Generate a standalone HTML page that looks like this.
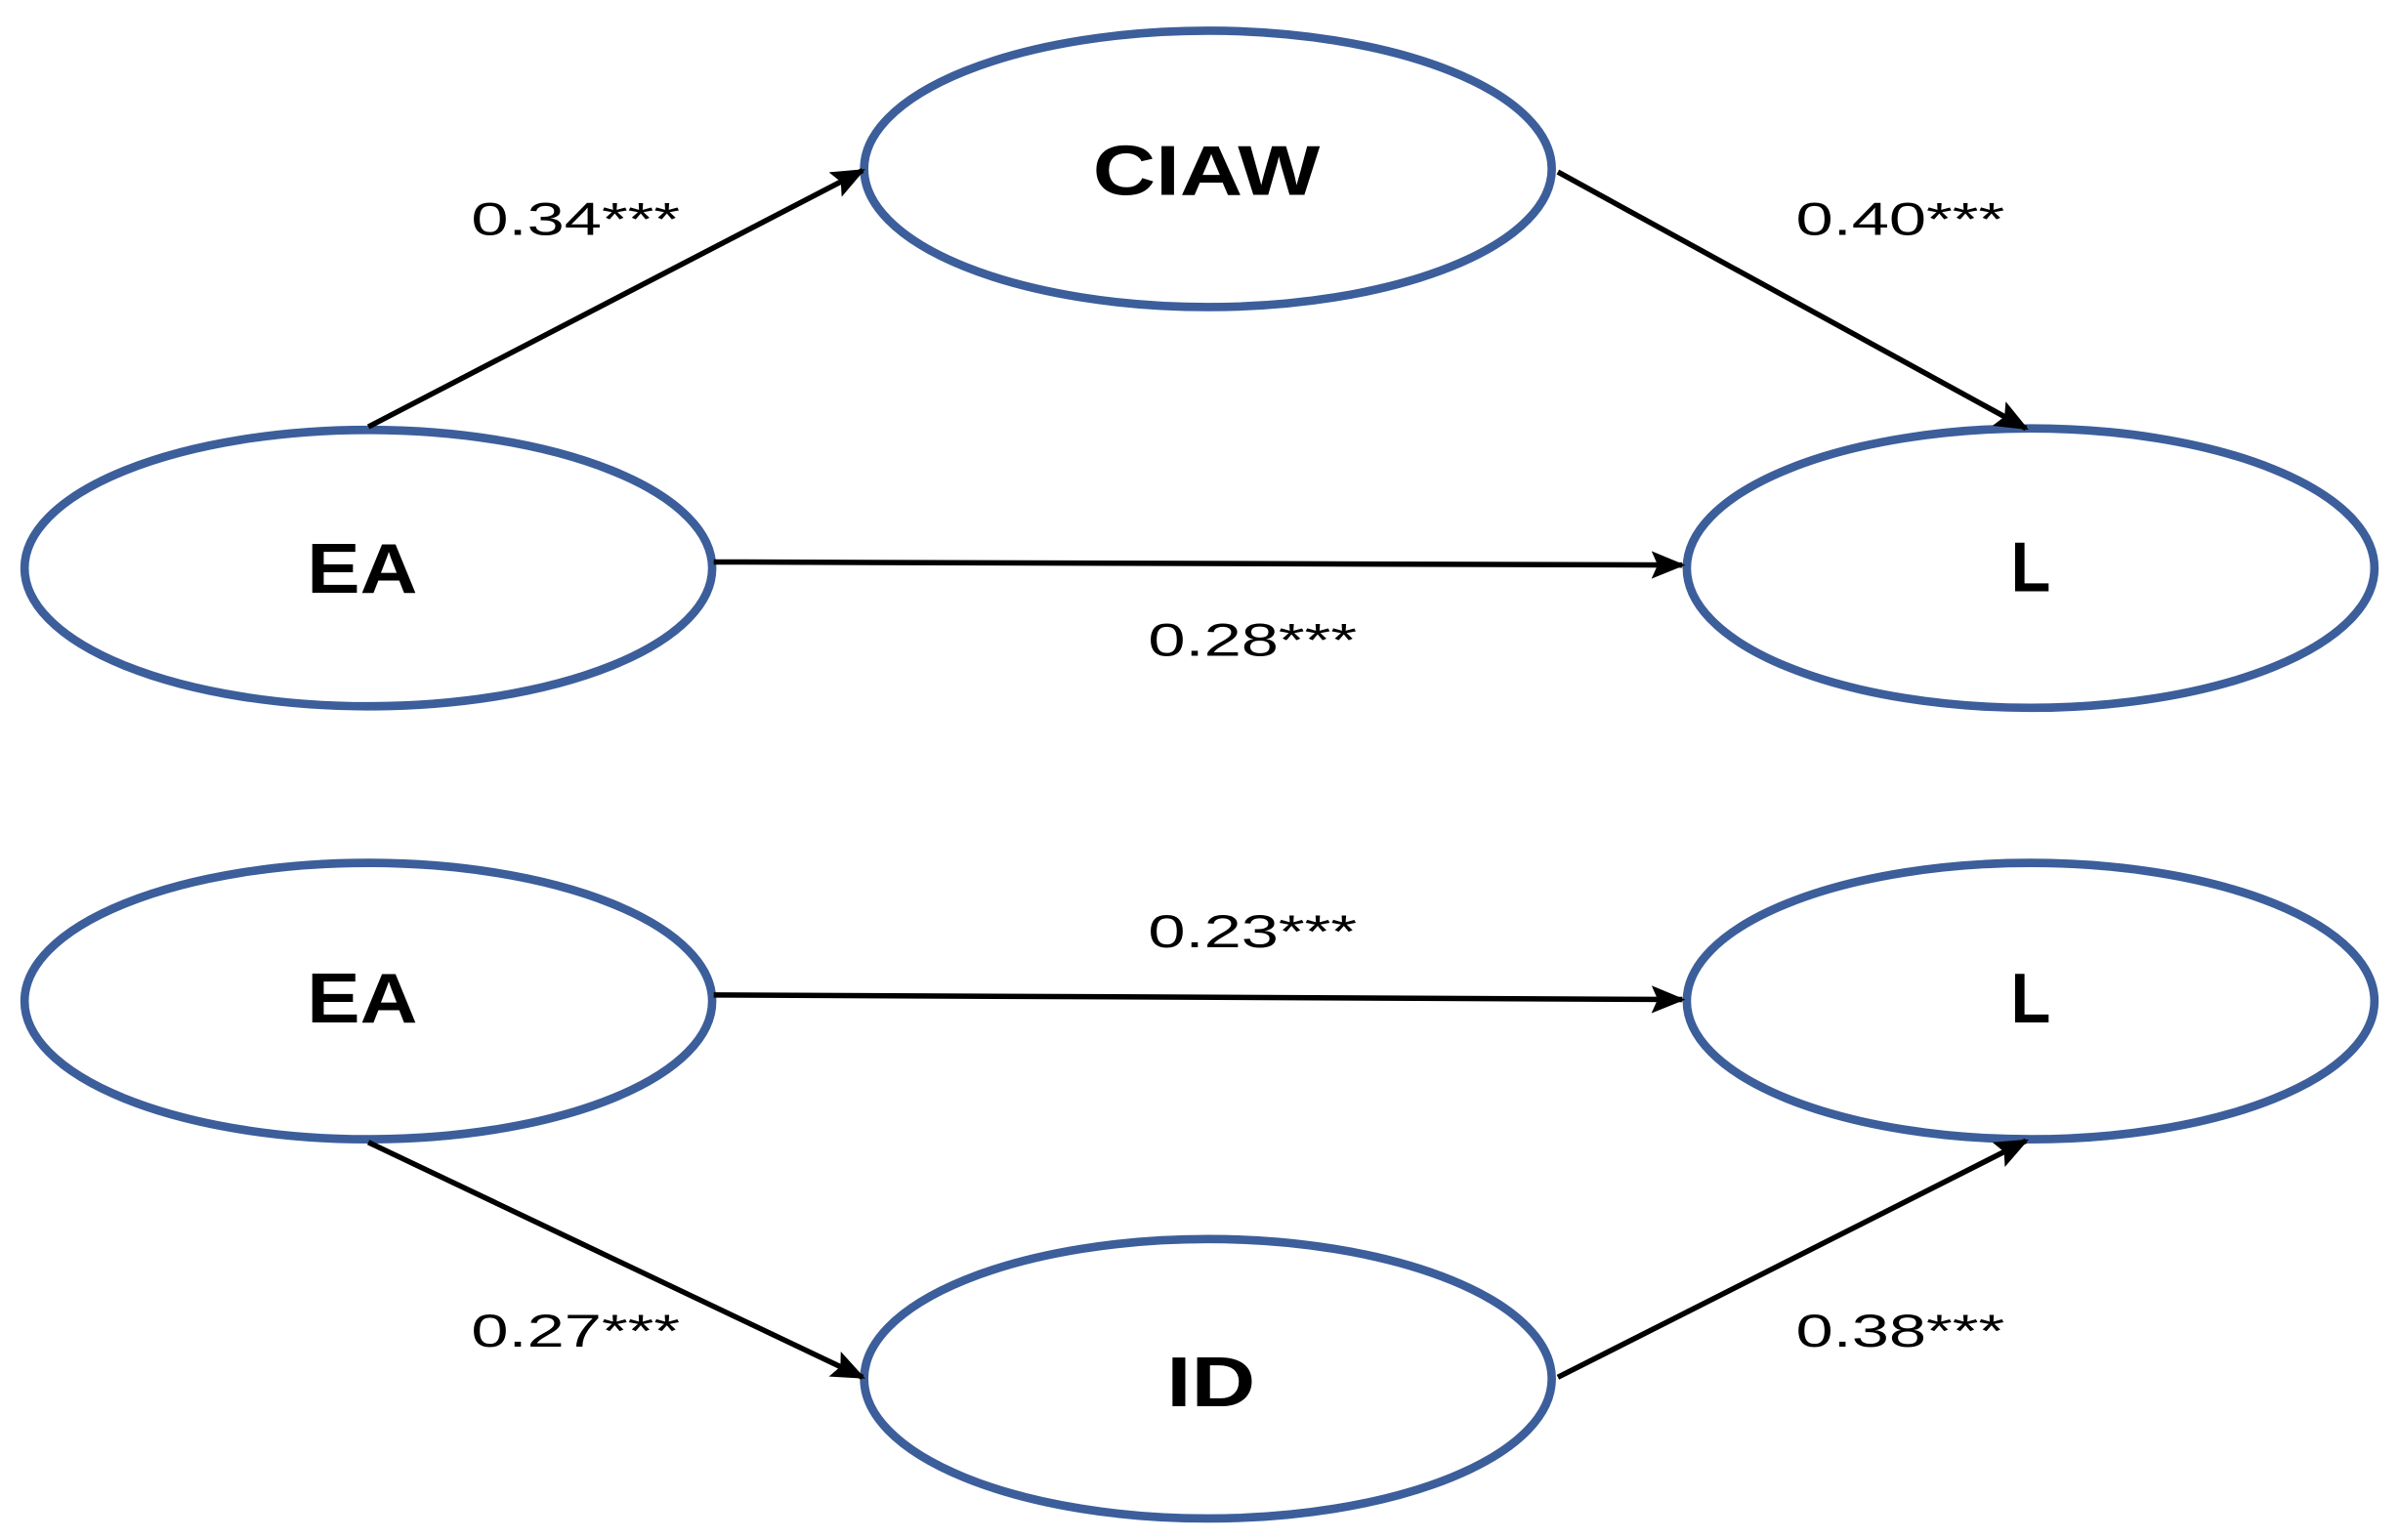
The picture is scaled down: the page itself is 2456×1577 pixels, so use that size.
<!DOCTYPE html>
<html><head><meta charset="utf-8"><style>html,body{margin:0;padding:0;background:#fff}svg{display:block}</style></head>
<body>
<svg width="2456" height="1577" viewBox="0 0 1563 1003" preserveAspectRatio="none" xmlns="http://www.w3.org/2000/svg">
<defs>
<marker id="b" markerWidth="22" markerHeight="18" refX="20" refY="9" orient="auto" markerUnits="userSpaceOnUse"><path d="M0,0 L22,9 L0,18 L4,9 Z" fill="#000"/></marker></defs>
<g fill="#fff" stroke="#3c5e9b" stroke-width="5.5">
<ellipse cx="787" cy="110" rx="224" ry="90"/>
<ellipse cx="240" cy="370" rx="224" ry="90"/>
<ellipse cx="1323" cy="370" rx="224" ry="91"/>
<ellipse cx="240" cy="652" rx="224" ry="90"/>
<ellipse cx="1323" cy="652" rx="224" ry="90"/>
<ellipse cx="787" cy="898" rx="224" ry="91"/>
</g>
<g stroke="#000" stroke-width="3.5" fill="none" marker-end="url(#b)">
<line x1="240" y1="278" x2="562" y2="111"/>
<line x1="1015" y1="112" x2="1320" y2="279"/>
<line x1="465" y1="366" x2="1096" y2="368"/>
<line x1="465" y1="648" x2="1096" y2="651"/>
<line x1="240" y1="744" x2="562" y2="897"/>
<line x1="1015" y1="897" x2="1320" y2="743"/>
</g>
<g font-family="Liberation Sans, sans-serif" font-size="30" fill="#000">
<text x="307" y="153" textLength="136" lengthAdjust="spacingAndGlyphs">0.34***</text>
<text x="1170" y="153" textLength="136" lengthAdjust="spacingAndGlyphs">0.40***</text>
<text x="748" y="427" textLength="136" lengthAdjust="spacingAndGlyphs">0.28***</text>
<text x="748" y="617" textLength="136" lengthAdjust="spacingAndGlyphs">0.23***</text>
<text x="307" y="877" textLength="136" lengthAdjust="spacingAndGlyphs">0.27***</text>
<text x="1170" y="877" textLength="136" lengthAdjust="spacingAndGlyphs">0.38***</text>
</g>
<g font-family="Liberation Sans, sans-serif" font-size="46" font-weight="bold" fill="#000">
<text x="712" y="127" textLength="148" lengthAdjust="spacingAndGlyphs">CIAW</text>
<text x="200" y="386" textLength="72" lengthAdjust="spacingAndGlyphs">EA</text>
<text x="1310" y="385" textLength="26" lengthAdjust="spacingAndGlyphs">L</text>
<text x="200" y="666" textLength="72" lengthAdjust="spacingAndGlyphs">EA</text>
<text x="1310" y="666" textLength="26" lengthAdjust="spacingAndGlyphs">L</text>
<text x="760" y="916" textLength="58" lengthAdjust="spacingAndGlyphs">ID</text>
</g>
</svg>
</body></html>
